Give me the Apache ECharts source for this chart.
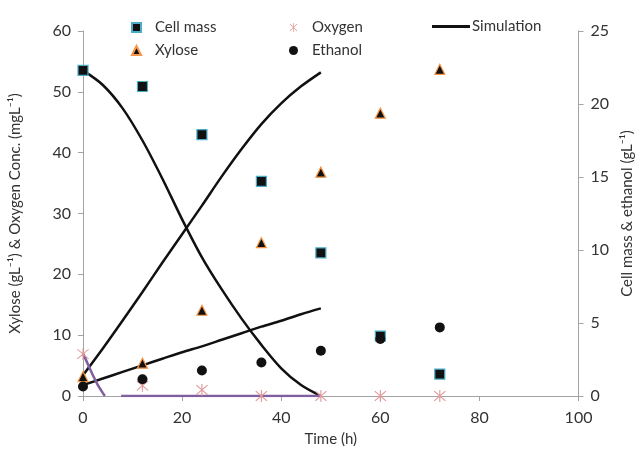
<!DOCTYPE html>
<html>
<head>
<meta charset="utf-8">
<script src="https://cdn.jsdelivr.net/npm/echarts@6/dist/echarts.min.js"></script>
<style>
  html, body { margin: 0; padding: 0; background: #fff; }
  #main { width: 643px; height: 459px; }
</style>
</head>
<body>
<div id="main"></div>
<script>
// measured points (h)
var sampleTime = [0, 12, 24, 36, 48, 60, 72];
var cellMass = [22.3, 21.2, 17.9, 14.7, 9.8, 4.1, 1.5];      // right axis
var xylose = [3.2, 5.4, 14.1, 25.2, 36.8, 46.5, 53.7];       // left axis
var ethanol = [0.65, 1.15, 1.75, 2.3, 3.1, 3.9, 4.7];        // right axis
var oxygen = [6.9, 1.7, 1.0, 0, 0, 0, 0];                    // left axis

// simulation curves
var simTime = [0, 4, 8, 12, 16, 20, 24, 28, 32, 36, 40, 44, 48];
var simXylose = [3.4, 7.8, 12.4, 17.1, 21.9, 26.6, 31.3, 36.1, 40.6, 44.7, 48.1, 50.9, 53.2];
var simCellMass = [22.3, 21.3, 19.7, 17.5, 14.9, 12.1, 9.5, 7.3, 5.3, 3.5, 1.9, 0.75, 0];
var simEthanol = [0.75, 1.2, 1.65, 2.1, 2.55, 3.0, 3.4, 3.85, 4.3, 4.75, 5.15, 5.6, 6.0];
var oxySimTime = [0, 1, 2, 3, 4, 4.4, 6, 7.7, 48];
var oxySim = [7, 5.2, 3.4, 1.8, 0.5, 0, null, 0, 0];

function pairs(xs, ys) {
    var out = [];
    for (var i = 0; i < xs.length; i++) {
        out.push([xs[i], ys[i] === null ? '-' : ys[i]]);
    }
    return out;
}

// asterisk marker: vertical bar + X
var asterisk = 'path://M9.2 0L10.8 0L10.8 20L9.2 20Z' +
    'M2.57 1.43L18.57 17.43L17.43 18.57L1.43 2.57Z' +
    'M18.57 2.57L2.57 18.57L1.43 17.43L17.43 1.43Z';

var font = 'Lato, "Liberation Sans", sans-serif';
var txt = '#333';
var axisGray = '#a3a3a3';

var chart = echarts.init(document.getElementById('main'));

var option = {
    backgroundColor: '#fff',
    animation: false,
    textStyle: { fontFamily: font },
    grid: { left: 83, right: 61, top: 31, bottom: 63 },
    legend: [
        {
            orient: 'vertical', left: 126, top: 15,
            itemWidth: 9, itemHeight: 9, itemGap: 8,
            textStyle: { fontSize: 15, color: txt, fontFamily: font, padding: [0, 0, 0, 9] },
            data: ['Cell mass', 'Xylose']
        },
        {
            orient: 'vertical', left: 284, top: 15,
            itemWidth: 9, itemHeight: 9, itemGap: 8,
            textStyle: { fontSize: 15, color: txt, fontFamily: font, padding: [0, 0, 0, 9] },
            data: ['Oxygen', 'Ethanol']
        },
        {
            orient: 'vertical', left: 427, top: 14,
            itemWidth: 38, itemHeight: 3,
            textStyle: { fontSize: 15, color: txt, fontFamily: font, padding: [0, 0, 0, -3] },
            data: [{ name: 'Simulation', icon: 'rect' }]
        }
    ],
    xAxis: {
        type: 'value', min: 0, max: 100, interval: 20,
        name: 'Time (h)', nameLocation: 'middle', nameGap: 36,
        nameTextStyle: { fontSize: 15, color: txt },
        axisLine: { lineStyle: { color: axisGray } },
        axisTick: { inside: false, length: 5, lineStyle: { color: axisGray } },
        axisLabel: { fontSize: 16, color: txt, margin: 14 },
        splitLine: { show: false }
    },
    yAxis: [
        {
            type: 'value', min: 0, max: 60, interval: 10, position: 'left',
            name: 'Xylose (gL\u207B\u00B9) & Oxygen Conc. (mgL\u207B\u00B9)',
            nameLocation: 'middle', nameGap: 60,
            nameTextStyle: { fontSize: 15, color: txt },
            axisLine: { show: true, lineStyle: { color: axisGray } },
            axisTick: { show: true, length: 5, lineStyle: { color: axisGray } },
            axisLabel: { fontSize: 16, color: txt, margin: 12 },
            splitLine: { show: false }
        },
        {
            type: 'value', min: 0, max: 25, interval: 5, position: 'right',
            name: 'Cell mass & ethanol (gL\u207B\u00B9)',
            nameLocation: 'middle', nameGap: 40,
            nameTextStyle: { fontSize: 15, color: txt },
            axisLine: { show: true, lineStyle: { color: axisGray } },
            axisTick: { show: true, length: 5, lineStyle: { color: axisGray } },
            axisLabel: { fontSize: 16, color: txt, margin: 12 },
            splitLine: { show: false }
        }
    ],
    series: [
        {
            name: 'Simulation', type: 'line', yAxisIndex: 0, z: 2,
            symbol: 'none', smooth: 0.3,
            lineStyle: { color: '#111', width: 2.5 }, itemStyle: { color: '#111' },
            data: pairs(simTime, simXylose)
        },
        {
            name: 'Simulation', type: 'line', yAxisIndex: 1, z: 2,
            symbol: 'none', smooth: 0.3,
            lineStyle: { color: '#111', width: 2.5 }, itemStyle: { color: '#111' },
            data: pairs(simTime, simCellMass)
        },
        {
            name: 'Simulation', type: 'line', yAxisIndex: 1, z: 2,
            symbol: 'none', smooth: 0.3,
            lineStyle: { color: '#111', width: 2.5 }, itemStyle: { color: '#111' },
            data: pairs(simTime, simEthanol)
        },
        {
            name: 'Oxygen simulation', type: 'line', yAxisIndex: 0, z: 2,
            symbol: 'none', smooth: 0.2, connectNulls: false,
            lineStyle: { color: '#7f5fa0', width: 2.5 },
            data: pairs(oxySimTime, oxySim)
        },
        {
            name: 'Cell mass', type: 'scatter', yAxisIndex: 1, z: 5,
            symbol: 'rect', symbolSize: 10,
            itemStyle: { color: '#111', opacity: 1, borderColor: '#4bacc6', borderWidth: 1.2 },
            data: pairs(sampleTime, cellMass)
        },
        {
            name: 'Xylose', type: 'scatter', yAxisIndex: 0, z: 5,
            symbol: 'triangle', symbolSize: 10,
            itemStyle: { color: '#111', opacity: 1, borderColor: '#f79646', borderWidth: 1.2 },
            data: pairs(sampleTime, xylose)
        },
        {
            name: 'Oxygen', type: 'scatter', yAxisIndex: 0, z: 5,
            symbol: asterisk, symbolSize: 12,
            itemStyle: { color: '#e39a9a', opacity: 1 },
            data: pairs(sampleTime, oxygen)
        },
        {
            name: 'Ethanol', type: 'scatter', yAxisIndex: 1, z: 5,
            symbol: 'circle', symbolSize: 10,
            itemStyle: { color: '#111', opacity: 1 },
            data: pairs(sampleTime, ethanol)
        }
    ]
};

chart.setOption(option);
</script>
</body>
</html>
